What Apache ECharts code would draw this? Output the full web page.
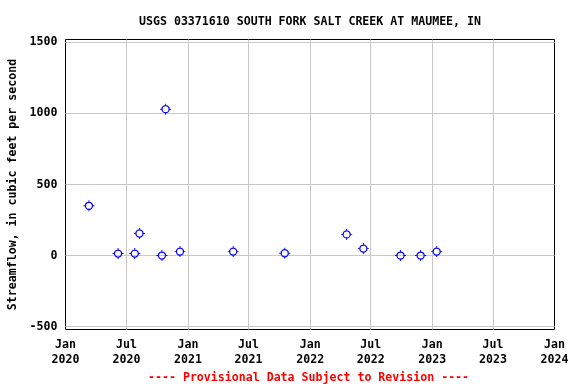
<!DOCTYPE html>
<html>
<head>
<meta charset="utf-8">
<script src="https://cdn.jsdelivr.net/npm/echarts@6/dist/echarts.min.js"></script>
<style>html,body{margin:0;padding:0;background:#fff;}#c{width:576px;height:384px;}</style>
</head>
<body>
<div id="c"></div>
<script>
const sampleDates = ['2020-03-11','2020-06-06','2020-07-26','2020-08-09','2020-10-15','2020-10-26','2020-12-08','2021-05-16','2021-10-17','2022-04-20','2022-06-09','2022-09-28','2022-11-27','2023-01-14'];
const streamflow = [350, 14, 14, 155, 0, 1030, 28, 28, 16, 149, 49, 0, 0, 28];
const yTicks = [-500, 0, 500, 1000, 1500];
const xTickDates = ['2020-01-01','2020-07-01','2021-01-01','2021-07-01','2022-01-01','2022-07-01','2023-01-01','2023-07-01','2024-01-01'];
const monthNames = ['Jan','Feb','Mar','Apr','May','Jun','Jul','Aug','Sep','Oct','Nov','Dec'];

function toTs(s){ const p = s.split('-').map(Number); return Date.UTC(p[0], p[1]-1, p[2]); }
const xTicks = xTickDates.map(toTs);
const FONT = 'DejaVu Sans Mono';
const FS = 11.6;
const MARKER = 'path://M11 3A8 8 0 0 1 11 19A8 8 0 0 1 11 3Z' +
  'M11 5.4A5.6 5.6 0 0 0 11 16.6A5.6 5.6 0 0 0 11 5.4Z' +
  'M10.1 0.5H11.9V3.6H10.1Z M10.1 18.4H11.9V21.5H10.1Z M0.5 10.1H3.6V11.9H0.5Z M18.4 10.1H21.5V11.9H18.4Z';

const chart = echarts.init(document.getElementById('c'), null, {renderer:'canvas'});
chart.setOption({
  animation: false,
  backgroundColor: '#fff',
  title: [
    {text: 'USGS 03371610 SOUTH FORK SALT CREEK AT MAUMEE, IN', left: 134, top: 11,
     textStyle: {fontFamily: FONT, fontWeight: 'bold', fontSize: FS, color: '#000'}},
    {text: '---- Provisional Data Subject to Revision ----', left: 143, top: 367,
     textStyle: {fontFamily: FONT, fontWeight: 'bold', fontSize: FS, color: '#ff0000'}}
  ],
  grid: {left: 65.5, right: 21.5, top: 39.5, bottom: 54.5, outerBoundsMode: 'none', containLabel: false,
         show: true, borderColor: '#000', borderWidth: 1, backgroundColor: 'transparent'},
  xAxis: {
    type: 'value', min: xTicks[0], max: xTicks[xTicks.length-1],
    axisLine: {show: false},
    axisTick: {show: false, customValues: xTicks.slice(1, -1)},
    splitLine: {show: true, lineStyle: {color: '#c8c8c8', width: 1}},
    axisLabel: {
      customValues: xTicks, margin: 8, showMinLabel: true, showMaxLabel: true,
      fontFamily: FONT, fontWeight: 'bold', fontSize: FS, color: '#000', lineHeight: 15,
      formatter: function(v){ const d = new Date(v); return monthNames[d.getUTCMonth()] + '\n' + d.getUTCFullYear(); }
    }
  },
  yAxis: {
    type: 'value', min: -520, max: 1520,
    name: 'Streamflow, in cubic feet per second', nameLocation: 'middle', nameGap: 47,
    nameTextStyle: {fontFamily: FONT, fontWeight: 'bold', fontSize: FS, color: '#000'},
    axisLine: {show: false},
    axisTick: {show: false, customValues: yTicks},
    splitLine: {show: true, lineStyle: {color: '#c8c8c8', width: 1}},
    axisLabel: {customValues: yTicks, margin: 8, fontFamily: FONT, fontWeight: 'bold', fontSize: FS, color: '#000',
      formatter: function(v){ return String(v); }}
  },
  series: [{
    type: 'scatter',
    data: sampleDates.map((d, i) => [toTs(d), streamflow[i]]),
    symbol: MARKER, symbolSize: 11,
    itemStyle: {color: '#0000ff', opacity: 1}
  }]
});
</script>
</body>
</html>
